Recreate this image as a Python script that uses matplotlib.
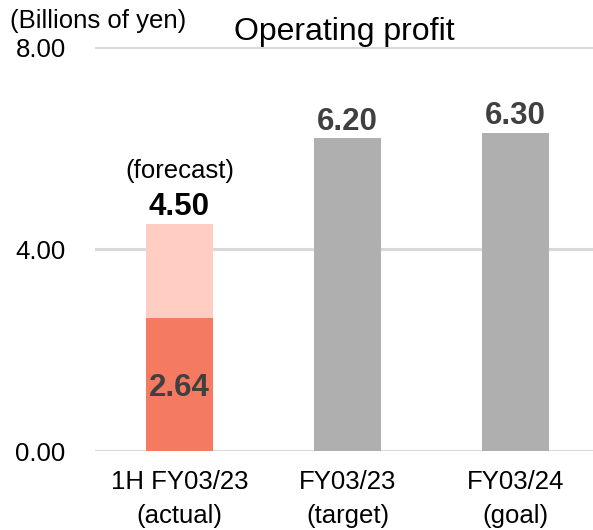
import matplotlib
matplotlib.use('Agg')
import matplotlib.pyplot as plt
import numpy as np

plt.rcParams['font.family'] = ['Liberation Sans', 'DejaVu Sans']

# Data (billions of yen)
categories = ['1H FY03/23\n(actual)', 'FY03/23\n(target)', 'FY03/24\n(goal)']
actual = [2.64, 0, 0]
forecast_total = [4.50, 0, 0]
plan_values = [0, 6.20, 6.30]
value_labels = ['4.50', '6.20', '6.30']
label_tops = [4.50, 6.20, 6.30]

DARK_RED = '#F47A62'
LIGHT_RED = '#FFCDC2'
GRAY = '#AFAFAF'
TEXT_DARK = '#404040'

fig = plt.figure(figsize=(5.93, 5.30), dpi=100)
ax = fig.add_axes([0.160, 0.149, 0.840, 0.762])

x = np.arange(len(categories))
width = 0.40

# First bar: actual + remaining forecast stacked
ax.bar(x[0], actual[0], width, color=DARK_RED, zorder=3)
ax.bar(x[0], forecast_total[0] - actual[0], width, bottom=actual[0],
       color=LIGHT_RED, zorder=3)
# Plan bars
ax.bar(x[1:], plan_values[1:], width, color=GRAY, zorder=3)

# Value labels
ax.text(x[0], label_tops[0] + 0.03, value_labels[0], ha='center', va='bottom',
        fontsize=22.5, fontweight='bold', color='black')
ax.text(x[0], label_tops[0] + 0.80, '(forecast)', ha='center', va='bottom',
        fontsize=18.5, color='black')
for i in (1, 2):
    ax.text(x[i], label_tops[i] + 0.03, value_labels[i], ha='center',
            va='bottom', fontsize=22.5, fontweight='bold', color=TEXT_DARK)
ax.text(x[0], 1.25, '%.2f' % actual[0], ha='center', va='center',
        fontsize=22.5, fontweight='bold', color=TEXT_DARK, zorder=4)

ax.set_xlim(-0.503, 2.46)
ax.set_ylim(0, 8)
ax.set_yticks([0, 4, 8])
ax.set_yticklabels(['0.00', '4.00', '8.00'], fontsize=18.5)
ax.set_xticks(x)
ax.set_xticklabels(categories, fontsize=18.5, linespacing=1.5)
ax.tick_params(axis='both', length=0)
ax.tick_params(axis='y', pad=21)
ax.tick_params(axis='x', pad=14)

ax.grid(axis='y', color='#D9D9D9', linewidth=2.2, zorder=0)
ax.set_axisbelow(True)
for s in ax.spines.values():
    s.set_visible(False)

fig.text(10 / 593, 1 - 21 / 530, '(Billions of yen)', ha='left', va='center',
         fontsize=18.5)
fig.text(344 / 593, 1 - 32 / 530, 'Operating profit', ha='center',
         va='center', fontsize=23)

fig.savefig('out.png', dpi=100, facecolor='white')
